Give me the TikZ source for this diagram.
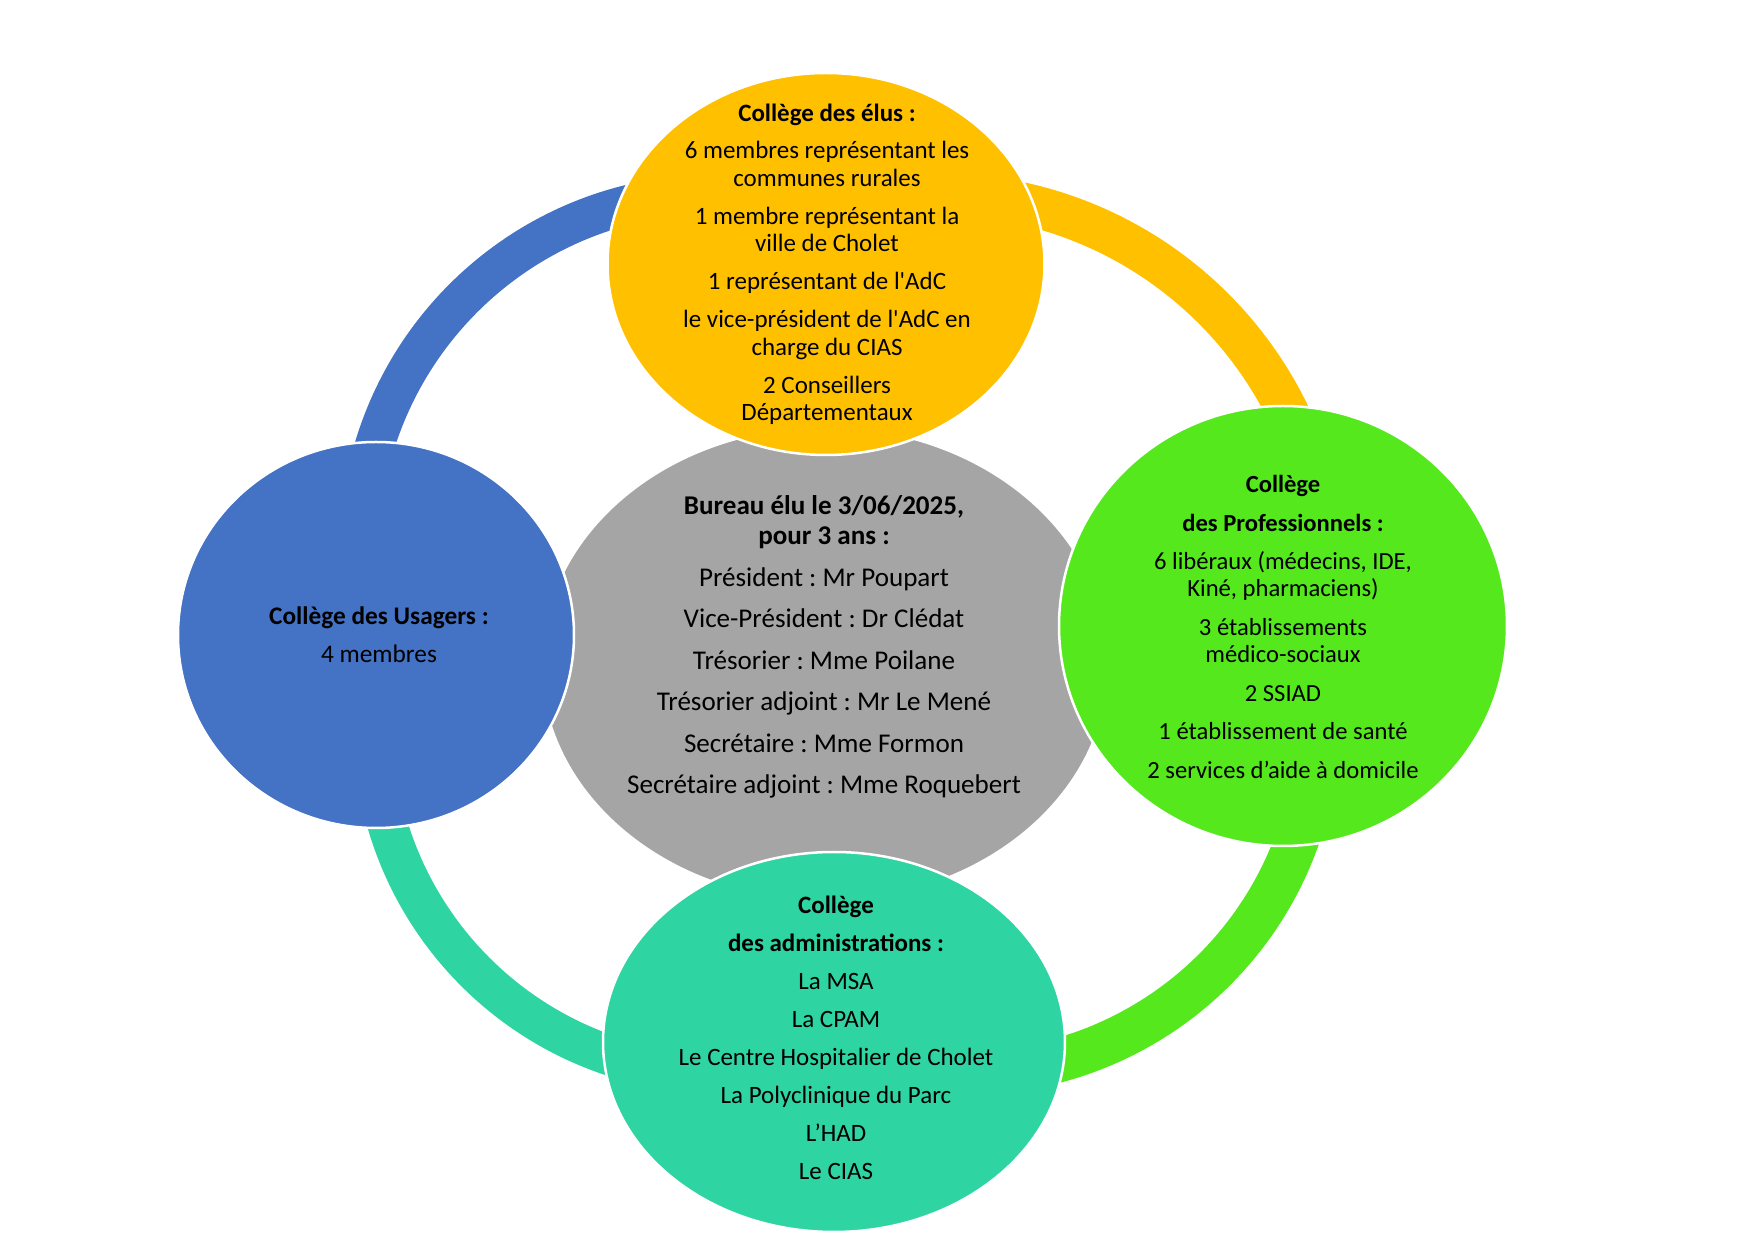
\documentclass[tikz,border=0pt]{standalone}
\usepackage{fontspec}
\setmainfont{Carlito}
\usetikzlibrary{shapes.geometric}
\definecolor{usager}{HTML}{4472C4}
\definecolor{elu}{HTML}{FFC000}
\definecolor{bureau}{HTML}{A5A5A5}
\definecolor{pro}{RGB}{84,232,29}
\definecolor{admin}{RGB}{46,212,161}
\tikzset{
	college/.style={ellipse, draw=white, line width=0.25mm, inner sep=0pt}, % the coloured discs
	ring/.style={line width=4.1mm}, % the arcs joining the discs
	txt/.style 2 args={align=center, inner sep=0pt, font=\fontsize{#1}{#2}\selectfont\frenchspacing}, % text inside a disc
}

\begin{document}
\begin{tikzpicture}[x=0.1mm, y=-0.1mm]
	\useasboundingbox (0,0) rectangle (1755,1241);

	% arcs behind the discs, each one round its own centre
	\coordinate (arc_usager) at (715,550);
	\coordinate (arc_elu) at (937,585);
	\coordinate (arc_pro) at (965,720);
	\coordinate (arc_admin) at (722,725);
	\draw[ring, usager, line width=3.95mm] (arc_usager) ++(188:356) arc[start angle=188, end angle=265, radius=356];
	\draw[ring, elu, line width=4.2mm] (arc_elu) ++(278:391) arc[start angle=278, end angle=340, radius=391];
	\draw[ring, pro, line width=4.4mm] (arc_pro) ++(12:353) arc[start angle=12, end angle=82, radius=353];
	\draw[ring, admin, line width=4mm] (arc_admin) ++(100:349) arc[start angle=100, end angle=170, radius=349];

	% bureau in the middle
	\node[college, fill=bureau, minimum width=56.8mm, minimum height=47.4mm] (bureau) at (825,664) {};
	\node[txt={7.7}{8.5}] (bureau_txt) at (824,647) {\textbf{Bureau élu le 3/06/2025,}\\\textbf{pour 3 ans :}\\[3.3pt]
		Président : Mr Poupart\\[3.3pt]
		Vice-Président : Dr Clédat\\[3.3pt]
		Trésorier : Mme Poilane\\[3.3pt]
		Trésorier adjoint : Mr Le Mené\\[3.3pt]
		Secrétaire : Mme Formon\\[3.3pt]
		Secrétaire adjoint : Mme Roquebert};

	% the four colleges
	\node[college, fill=usager, minimum width=39.6mm, minimum height=38.6mm] (usagers) at (376,635) {};
	\node[txt={7.2}{7.9}] (usagers_txt) at (379,635) {\textbf{Collège des Usagers :}\\[3pt]4 membres};

	\node[college, fill=pro, minimum width=44.8mm, minimum height=44mm] (pros) at (1283,626) {};
	\node[txt={7}{7.7}] (pros_txt) at (1283,627) {\textbf{Collège}\\[3.3pt]
		\textbf{des Professionnels :}\\[3.3pt]
		6 libéraux (médecins, IDE,\\Kiné, pharmaciens)\\[3.3pt]
		3 établissements\\médico-sociaux\\[3.3pt]
		2 SSIAD\\[3.3pt]
		1 établissement de santé\\[3.3pt]
		2 services d’aide à domicile};

	\node[college, fill=elu, minimum width=43.7mm, minimum height=38.2mm] (elus) at (826,264) {};
	\node[txt={7.1}{7.8}] (elus_txt) at (827,264) {\textbf{Collège des élus :}\\[3pt]
		6 membres représentant les\\communes rurales\\[3pt]
		1 membre représentant la\\ville de Cholet\\[3pt]
		1 représentant de l\textquotesingle AdC\\[3pt]
		le vice-président de l\textquotesingle AdC en\\charge du CIAS\\[3pt]
		2 Conseillers\\Départementaux};

	\node[college, fill=admin, minimum width=46.2mm, minimum height=38mm] (admins) at (834,1042) {};
	\node[txt={7.1}{7.8}] (admins_txt) at (836,1038) {\textbf{Collège}\\[3pt]
		\textbf{des administrations :}\\[3pt]
		La MSA\\[3pt]
		La CPAM\\[3pt]
		Le Centre Hospitalier de Cholet\\[3pt]
		La Polyclinique du Parc\\[3pt]
		L’HAD\\[3pt]
		Le CIAS};
\end{tikzpicture}
\end{document}
